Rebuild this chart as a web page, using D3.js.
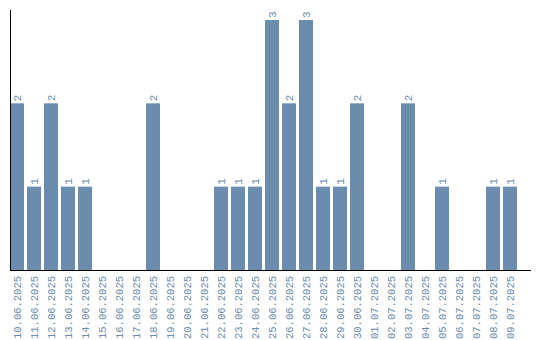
<!DOCTYPE html>
<html>
<head>
<meta charset="utf-8">
<script src="https://cdn.jsdelivr.net/npm/d3@7"></script>
<style>
  body { margin: 0; background: #fff; }
  text { font-family: "Liberation Mono", monospace; }
</style>
</head>
<body>
<svg width="540" height="340"></svg>
<script>
// data
var dates = ["10.06.2025","11.06.2025","12.06.2025","13.06.2025","14.06.2025","15.06.2025",
  "16.06.2025","17.06.2025","18.06.2025","19.06.2025","20.06.2025","21.06.2025",
  "22.06.2025","23.06.2025","24.06.2025","25.06.2025","26.06.2025","27.06.2025",
  "28.06.2025","29.06.2025","30.06.2025","01.07.2025","02.07.2025","03.07.2025",
  "04.07.2025","05.07.2025","06.07.2025","07.07.2025","08.07.2025","09.07.2025"]
var counts = [2,1,2,1,1,0,0,0,2,0,0,0,1,1,1,3,2,3,1,1,2,0,0,2,0,1,0,0,1,1]

var svg = d3.select("svg"),
    width = +svg.attr("width"),
    height = +svg.attr("height");

var barColor = "#6b8cad";

// scales
var x = d3.scaleBand()
    .domain(dates)
    .range([10, 517])
    .paddingInner(3/17)
    .paddingOuter(0);

var y = d3.scaleLinear()
    .domain([0, 3])
    .range([270, 20]);

var data = dates.map(function(d, i){ return {date: d, value: counts[i]} })

// bars
svg.append("g")
  .selectAll("rect")
  .data(data.filter(function(d){ return d.value > 0 }))
  .enter().append("rect")
    .attr("x", function(d){ return x(d.date) })
    .attr("y", function(d){ return y(d.value) })
    .attr("width", x.bandwidth())
    .attr("height", function(d){ return y(0) - y(d.value) })
    .attr("fill", barColor)

// value labels
svg.append("g")
  .selectAll("text")
  .data(data.filter(function(d){ return d.value > 0 }))
  .enter().append("text")
    .attr("transform", function(d){
      return "translate(" + (x(d.date) + x.bandwidth()/2 + 3.5) + "," + (y(d.value) - 2) + ") rotate(-90)"
    })
    .style("font-size", "11px")
    .style("fill", barColor)
    .text(function(d){ return d.value })

// x axis labels
var xAxis = svg.append("g")
    .attr("transform", "translate(0,270)")
    .call(d3.axisBottom(x).tickSize(0).tickPadding(0))
xAxis.select(".domain").remove()
xAxis.selectAll("text")
    .attr("transform", "rotate(-90)")
    .attr("x", -6)
    .attr("y", 0)
    .attr("dy", "0.35em")
    .style("text-anchor", "end")
    .style("font-family", "Liberation Mono, monospace")
    .style("font-size", "10.5px")
    .style("fill", barColor)

// axis lines
svg.append("line")
    .attr("x1", 10.5).attr("x2", 10.5)
    .attr("y1", 10).attr("y2", 270)
    .style("stroke", "#000").style("stroke-width", 1)
svg.append("line")
    .attr("x1", 10).attr("x2", 531)
    .attr("y1", 270.5).attr("y2", 270.5)
    .style("stroke", "#000").style("stroke-width", 1)
</script>
</body>
</html>
